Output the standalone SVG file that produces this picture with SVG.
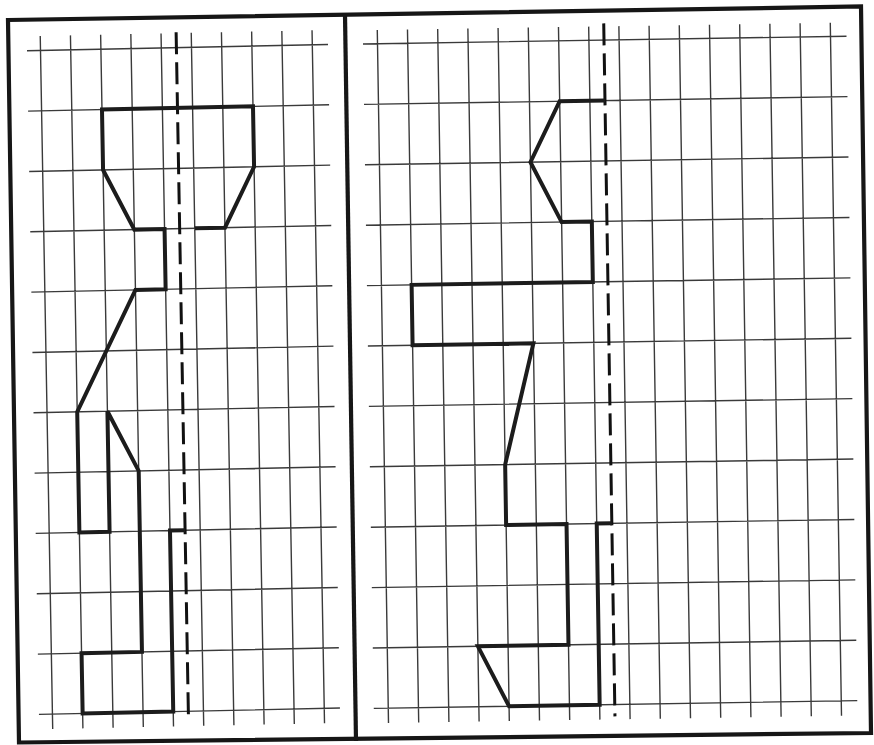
<svg xmlns="http://www.w3.org/2000/svg" width="874" height="745" viewBox="0 0 874 745">
<style>
.grid{fill:none;stroke:#3a3a3a;stroke-width:1.4}
.axis{fill:none;stroke:#111;stroke-width:3;stroke-dasharray:22 8}
.shape{fill:none;stroke:#1c1c1c;stroke-width:4;stroke-linejoin:miter;stroke-linecap:butt}
.frame{fill:none;stroke:#161616;stroke-width:4.2;stroke-linejoin:miter}
</style>
<rect x="0" y="0" width="874" height="745" fill="#ffffff"/>
<g id="frame">
<polygon class="frame" points="8,20 861,6.5 871,733 19,742.5"/>
<line class="frame" x1="345" y1="14.7" x2="356" y2="741"/>
</g>
<g id="left-panel" transform="matrix(1,-0.021,0.018,1,-0.909,0.861)">
<path id="left-grid" class="grid" d="M40.5 36V729M70.7 36V729M100.9 36V729M131.1 36V729M161.3 36V729M191.5 36V729M221.7 36V729M251.9 36V729M282.1 36V729M312.3 36V729
M27 50.5H328M27 110.8H328M27 171.2H328M27 231.5H328M27 291.8H328M27 352.2H328M27 412.5H328M27 472.8H328M27 533.1H328M27 593.5H328M27 653.8H328M27 714.1H328"/>
<line id="left-axis" class="axis" x1="176.4" y1="35" x2="176.4" y2="723"/>
<polyline id="left-figure" class="shape" points="191.5,231.5 221.7,231.5 251.9,171.2 251.9,110.8 100.9,110.8 100.9,171.2 131.1,231.5 161.3,231.5 161.3,291.8 131.1,291.8 70.7,412.5 70.7,533.1 100.9,533.1 100.9,412.5 131.1,472.8 131.1,653.8 70.7,653.8 70.7,714.1 161.3,714.1 161.3,533.1 176.4,533.1"/>
</g>
<g id="right-panel" transform="matrix(1,-0.016,0.0162,1,-0.709,6.04)">
<path id="right-grid" class="grid" d="M377.5 30V723M407.7 30V723M437.9 30V723M468.1 30V723M498.3 30V723M528.5 30V723M558.7 30V723M588.9 30V723M619.1 30V723M649.3 30V723M679.5 30V723M709.7 30V723M739.9 30V723M770.1 30V723M800.3 30V723M830.5 30V723
M363 43.75H846.5M363 104.15H846.5M363 164.55H846.5M363 224.95H846.5M363 285.35H846.5M363 345.75H846.5M363 406.15H846.5M363 466.55H846.5M363 526.95H846.5M363 587.35H846.5M363 647.75H846.5M363 708.15H846.5"/>
<line id="right-axis" class="axis" x1="604" y1="27" x2="604" y2="720"/>
<polyline id="right-figure" class="shape" points="604,104.15 558.7,104.15 528.5,164.55 558.7,224.95 588.9,224.95 588.9,285.35 407.7,285.35 407.7,345.75 528.5,345.75 498.3,466.55 498.3,526.95 558.7,526.95 558.7,647.75 468.1,647.75 498.3,708.15 588.9,708.15 588.9,526.95 604,526.95"/>
</g>
</svg>
